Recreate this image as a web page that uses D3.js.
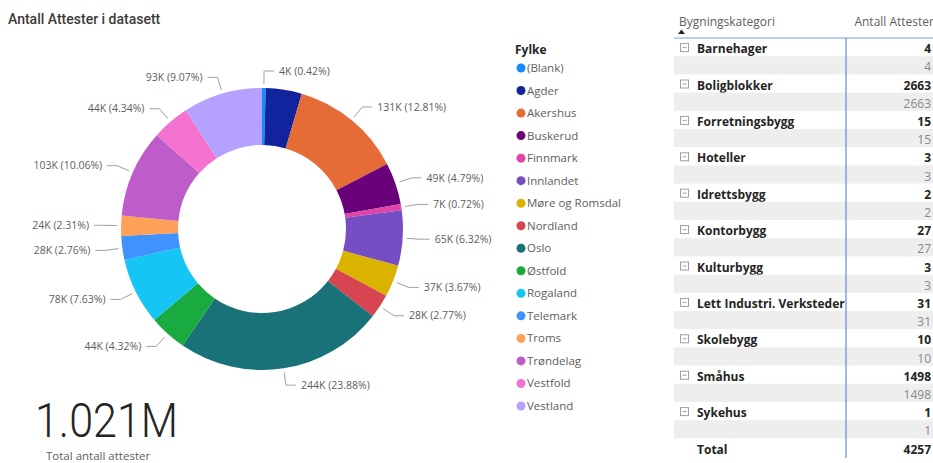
<!DOCTYPE html>
<html>
<head>
<meta charset="utf-8">
<script src="https://cdn.jsdelivr.net/npm/d3@7"></script>
<style>
	body { margin: 0; background: #fff; }
	svg { display: block; }
	text { font-family: "Open Sans", "Noto Sans", sans-serif; }
</style>
</head>
<body>
<script>
// donut data: Fylke and number of certificates
const fylker = ['(Blank)', 'Agder', 'Akershus', 'Buskerud', 'Finnmark', 'Innlandet', 'Møre og Romsdal', 'Nordland',
	'Oslo', 'Østfold', 'Rogaland', 'Telemark', 'Troms', 'Trøndelag', 'Vestfold', 'Vestland'];
const attester = [4288, 42167, 130790, 48906, 7351, 64527, 37471, 28282,
	243815, 44107, 77902, 28180, 23585, 102713, 44311, 92605];
const fylkeColors = ['#118DFF', '#12239E', '#E66C37', '#6B007B', '#E044A7', '#744EC2', '#D9B300', '#D64550',
	'#197278', '#1AAB40', '#15C6F4', '#4092FF', '#FFA058', '#BE5DC9', '#F472D0', '#B5A1FF'];

// matrix data
const kategorier = ['Barnehager', 'Boligblokker', 'Forretningsbygg', 'Hoteller', 'Idrettsbygg', 'Kontorbygg',
	'Kulturbygg', 'Lett Industri. Verksteder', 'Skolebygg', 'Småhus', 'Sykehus'];
const kategoriAntall = [4, 2663, 15, 3, 2, 27, 3, 31, 10, 1498, 1];

const width = 933, height = 463;

const svg = d3.select('body').append('svg')
	.attr('width', width)
	.attr('height', height);

svg.append('text')
	.attr('x', 8).attr('y', 24)
	.style('font-size', '14px')
	.style('font-family', 'Roboto, sans-serif')
	.style('font-weight', 500)
	.attr('fill', '#3b3a39')
	.text('Antall Attester i datasett');

// ---- donut ----
const cx = 262, cy = 229;
const outerR = 141, innerR = 84;
const total = d3.sum(attester);

const pie = d3.pie().sort(null).value(d => d.value);
const arcs = pie(fylker.map((name, i) => ({ name, value: attester[i], color: fylkeColors[i] })));

const arc = d3.arc().innerRadius(innerR).outerRadius(outerR);

const donut = svg.append('g').attr('transform', `translate(${cx},${cy})`);

donut.selectAll('path.slice')
	.data(arcs)
	.join('path')
	.attr('class', 'slice')
	.attr('d', arc)
	.attr('fill', d => d.data.color);

const polar = (r, a) => [r * Math.sin(a), -r * Math.cos(a)];
const fmtK = v => Math.round(v / 1000) + 'K';
const fmtPct = v => (v / total * 100).toFixed(2) + '%';

// Agder has no label in the original (not enough room)
const labelled = arcs.filter(d => d.data.name !== 'Agder');

labelled.forEach(d => {
	const a = (d.startAngle + d.endAngle) / 2;
	const right = a < Math.PI;
	const p0 = polar(outerR + 4, a);
	const p1 = polar(158, a);
	const p2 = [p1[0] + (right ? 10 : -10), p1[1]];

	donut.append('path')
		.attr('d', d3.line()([p0, p1, p2]))
		.attr('fill', 'none')
		.attr('stroke', '#a0a0a0')
		.attr('stroke-width', 1);

	donut.append('text')
		.attr('x', p2[0] + (right ? 5 : -5))
		.attr('y', p2[1])
		.attr('dy', '0.35em')
		.attr('text-anchor', right ? 'start' : 'end')
		.style('font-size', '10.5px')
		.attr('fill', '#605e5c')
		.text(`${fmtK(d.data.value)} (${fmtPct(d.data.value)})`);
});

// ---- legend ----
const legend = svg.append('g');
legend.append('text')
	.attr('x', 515).attr('y', 54)
	.style('font-size', '12px')
	.style('font-weight', 700)
	.attr('fill', '#252423')
	.text('Fylke');

const legendY = d3.scalePoint().domain(fylker).range([68, 406]);
const item = legend.selectAll('g.item')
	.data(fylker)
	.join('g')
	.attr('class', 'item')
	.attr('transform', d => `translate(521,${legendY(d)})`);
item.append('circle')
	.attr('r', 4.5)
	.attr('fill', (d, i) => fylkeColors[i]);
item.append('text')
	.attr('x', 6)
	.attr('dy', '0.35em')
	.style('font-size', '11.5px')
	.attr('fill', '#605e5c')
	.text(d => d);

// ---- card ----
svg.append('text')
	.attr('x', 35).attr('y', 437)
	.style('font-family', 'Roboto, sans-serif')
	.style('font-weight', 300)
	.style('font-size', '48px')
	.attr('textLength', 143)
	.attr('lengthAdjust', 'spacingAndGlyphs')
	.attr('fill', '#252423')
	.text((total / 1e6).toFixed(3) + 'M');

svg.append('text')
	.attr('x', 46).attr('y', 460)
	.style('font-size', '11.5px')
	.attr('fill', '#605e5c')
	.text('Total antall attester');

// ---- matrix ----
const tblLeft = 674, tblRight = 933, valX = 931, divX = 846;
const headerBottom = 38, rowH = 18.2;

const tbl = svg.append('g');

tbl.append('text')
	.attr('x', 679).attr('y', 26)
	.style('font-size', '12px')
	.attr('fill', '#605e5c')
	.text('Bygningskategori');
tbl.append('path')
	.attr('d', 'M678,34 L681.5,29.5 L685,34 Z')
	.attr('fill', '#252423');
tbl.append('text')
	.attr('x', 934).attr('y', 26)
	.attr('text-anchor', 'end')
	.style('font-size', '12px')
	.attr('fill', '#605e5c')
	.text('Antall Attester');

const rows = [];
kategorier.forEach((k, i) => {
	rows.push({ type: 'group', label: k, value: kategoriAntall[i] });
	rows.push({ type: 'sub', label: '', value: kategoriAntall[i] });
});
rows.push({ type: 'total', label: 'Total', value: d3.sum(kategoriAntall) });

const rowY = d3.scaleLinear().domain([0, 1]).range([headerBottom, headerBottom + rowH]);

const row = tbl.selectAll('g.row')
	.data(rows)
	.join('g')
	.attr('class', 'row')
	.attr('transform', (d, i) => `translate(0,${rowY(i)})`);

row.filter(d => d.type === 'sub').append('rect')
	.attr('x', tblLeft).attr('width', tblRight - tblLeft)
	.attr('height', rowH)
	.attr('fill', '#eeeeee');

const grp = row.filter(d => d.type === 'group');
grp.append('rect')
	.attr('x', 680.5).attr('y', rowH / 2 - 3.5)
	.attr('width', 8).attr('height', 8)
	.attr('fill', 'none')
	.attr('stroke', '#a19f9d');
grp.append('line')
	.attr('x1', 682.5).attr('x2', 686.5)
	.attr('y1', rowH / 2 + 0.5).attr('y2', rowH / 2 + 0.5)
	.attr('stroke', '#a19f9d');

row.filter(d => d.type !== 'sub').append('text')
	.attr('x', 697).attr('y', rowH / 2 + 2)
	.attr('dy', '0.35em')
	.style('font-size', '12px')
	.style('font-weight', 700)
	.attr('fill', '#252423')
	.text(d => d.label);

row.append('text')
	.attr('x', valX).attr('y', rowH / 2 + 2)
	.attr('dy', '0.35em')
	.attr('text-anchor', 'end')
	.style('font-size', '12px')
	.style('font-weight', d => d.type === 'sub' ? 400 : 700)
	.attr('fill', d => d.type === 'sub' ? '#8a8886' : '#252423')
	.text(d => d.value);

tbl.append('line')
	.attr('x1', tblLeft).attr('x2', tblRight)
	.attr('y1', headerBottom).attr('y2', headerBottom)
	.attr('stroke', '#7f9be8');
tbl.append('line')
	.attr('x1', divX).attr('x2', divX)
	.attr('y1', headerBottom).attr('y2', 458)
	.attr('stroke', '#4a6fe0');
</script>
</body>
</html>
